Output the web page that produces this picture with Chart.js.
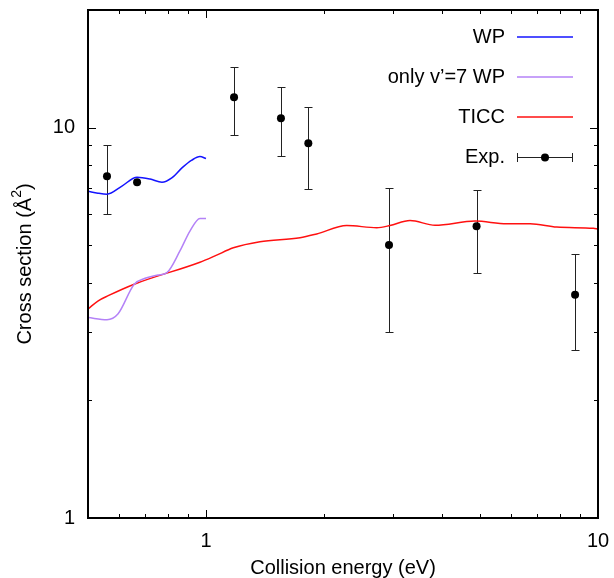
<!DOCTYPE html>
<html>
<head>
<meta charset="utf-8">
<script src="https://cdn.jsdelivr.net/npm/chart.js@4.4.0/dist/chart.umd.min.js"></script>
<style>
body { margin: 0; background: #fff; }
</style>
</head>
<body>
<canvas id="myChart" width="614" height="578"></canvas>
<script>
'use strict';

// WP (all v')
let wpE = [0.5, 0.53, 0.559, 0.609, 0.667, 0.72, 0.772, 0.818, 0.867, 0.92, 0.965, 1.0];
let wpS = [6.87, 6.79, 6.75, 7.07, 7.46, 7.38, 7.24, 7.43, 7.87, 8.25, 8.43, 8.33];

// only v'=7 WP
let v7E = [0.5, 0.559, 0.596, 0.656, 0.699, 0.754, 0.795, 0.858, 0.91, 0.965, 1.0];
let v7S = [3.26, 3.22, 3.33, 3.97, 4.11, 4.19, 4.25, 4.83, 5.43, 5.85, 5.85];

// TICC
let ticcE = [0.5, 0.531, 0.563, 0.656, 0.965, 1.054, 1.174, 1.373, 1.737, 1.916, 2.286, 2.726, 2.946, 3.315, 3.838, 4.856, 5.85, 6.71, 7.85, 9.73, 10];
let ticcS = [3.43, 3.60, 3.71, 3.97, 4.52, 4.69, 4.92, 5.10, 5.22, 5.34, 5.61, 5.54, 5.61, 5.78, 5.62, 5.76, 5.67, 5.67, 5.56, 5.52, 5.50];

// experiment with error bars
let expE = [0.559, 0.667, 1.179, 1.553, 1.824, 2.93, 4.90, 8.74];
let expS = [7.50, 7.24, 11.95, 10.56, 9.12, 5.00, 5.59, 3.73];
let expLow = [6.0, 7.24, 9.58, 8.47, 6.94, 3.0, 4.25, 2.69];
let expHigh = [9.0, 7.24, 14.31, 12.67, 11.31, 7.0, 6.91, 4.75];

let xTickLabels = [1, 10];
let yTickLabels = [1, 10];
let xMinor = [0.6, 0.7, 0.8, 0.9, 2, 3, 4, 5, 6, 7, 8, 9];
let yMinor = [2, 3, 4, 5, 6, 7, 8, 9];

function pts(xs, ys){
    let out = [];
    for (let i = 0; i < xs.length; i++){
        out.push({x: xs[i], y: ys[i]});
    }
    return out;
}

function onlyDecades(list){
    return function(value){
        for (let i = 0; i < list.length; i++){
            if (Math.abs(value - list[i]) < 1e-9) return String(list[i]);
        }
        return '';
    };
}

let fontFamily = '"Liberation Sans", Arial, sans-serif';
Chart.defaults.font.family = fontFamily;
Chart.defaults.font.size = 20;
Chart.defaults.color = '#000';

let frame = {
    id: 'frame',
    beforeDatasetsDraw(chart){
        let ctx = chart.ctx;
        let a = chart.chartArea;
        let xs = chart.scales.x;
        let ys = chart.scales.y;
        ctx.save();
        ctx.strokeStyle = '#000';
        ctx.lineWidth = 1;
        ctx.beginPath();
        // ticks on all four sides, pointing in
        xTickLabels.concat(xMinor).forEach(v => {
            let len = xTickLabels.includes(v) ? 8 : 4;
            let px = Math.round(xs.getPixelForValue(v)) + 0.5;
            ctx.moveTo(px, a.bottom); ctx.lineTo(px, a.bottom - len);
            ctx.moveTo(px, a.top); ctx.lineTo(px, a.top + len);
        });
        yTickLabels.concat(yMinor).forEach(v => {
            let len = yTickLabels.includes(v) ? 8 : 4;
            let py = Math.round(ys.getPixelForValue(v)) + 0.5;
            ctx.moveTo(a.left, py); ctx.lineTo(a.left + len, py);
            ctx.moveTo(a.right, py); ctx.lineTo(a.right - len, py);
        });
        ctx.stroke();

        // error bars
        ctx.strokeStyle = '#222';
        ctx.beginPath();
        for (let i = 0; i < expE.length; i++){
            if (expHigh[i] === expLow[i]) continue;
            let px = Math.round(xs.getPixelForValue(expE[i])) + 0.5;
            let top = Math.round(ys.getPixelForValue(expHigh[i])) + 0.5;
            let bot = Math.round(ys.getPixelForValue(expLow[i])) + 0.5;
            ctx.moveTo(px, top); ctx.lineTo(px, bot);
            ctx.moveTo(px - 4, top); ctx.lineTo(px + 4, top);
            ctx.moveTo(px - 4, bot); ctx.lineTo(px + 4, bot);
        }
        ctx.stroke();
        ctx.restore();
    },
    afterDatasetsDraw(chart){
        let ctx = chart.ctx;
        let a = chart.chartArea;
        ctx.save();
        ctx.strokeStyle = '#000';
        ctx.lineWidth = 2;
        ctx.strokeRect(a.left, a.top, a.right - a.left, a.bottom - a.top);

        // y title with a real superscript
        ctx.fillStyle = '#000';
        ctx.save();
        ctx.translate(25, (a.top + a.bottom) / 2);
        ctx.rotate(-Math.PI / 2);
        ctx.textBaseline = 'middle';
        ctx.textAlign = 'left';
        let big = '20px ' + fontFamily;
        let small = '14px ' + fontFamily;
        ctx.font = big;
        let p1 = 'Cross section (\u00c5';
        let w1 = ctx.measureText(p1).width;
        let w3 = ctx.measureText(')').width;
        ctx.font = small;
        let w2 = ctx.measureText('2').width;
        let x0 = -(w1 + w2 + w3) / 2;
        ctx.font = big;
        ctx.fillText(p1, x0, 0);
        ctx.font = small;
        ctx.fillText('2', x0 + w1, -8);
        ctx.font = big;
        ctx.fillText(')', x0 + w1 + w2, 0);
        ctx.restore();

        // legend, text right aligned with sample on the right
        ctx.font = '20px ' + fontFamily;
        ctx.textAlign = 'right';
        ctx.textBaseline = 'middle';
        ctx.fillStyle = '#000';
        chart.data.datasets.forEach((ds, i) => {
            let y = 37 + i * 40;
            ctx.fillText(ds.label, 505, y);
            if (ds.label === 'Exp.'){
                ctx.strokeStyle = '#222';
                ctx.lineWidth = 1;
                ctx.beginPath();
                ctx.moveTo(517, y + 0.5); ctx.lineTo(573, y + 0.5);
                ctx.moveTo(517.5, y - 4); ctx.lineTo(517.5, y + 5);
                ctx.moveTo(572.5, y - 4); ctx.lineTo(572.5, y + 5);
                ctx.stroke();
                ctx.beginPath();
                ctx.arc(545, y + 0.5, 4, 0, Math.PI * 2);
                ctx.fill();
            } else {
                ctx.strokeStyle = ds.borderColor;
                ctx.lineWidth = 1.5;
                ctx.beginPath();
                ctx.moveTo(517, y); ctx.lineTo(573, y);
                ctx.stroke();
            }
        });
        ctx.restore();
    }
};

let lineStyle = {
    showLine: true,
    pointRadius: 0,
    borderWidth: 1.5,
    cubicInterpolationMode: 'monotone',
    fill: false
};

let chardata = {
    type: 'scatter',
    data: {
        datasets: [
            Object.assign({label: 'WP', data: pts(wpE, wpS), borderColor: '#1414ff'}, lineStyle),
            Object.assign({label: 'only v\u2019=7 WP', data: pts(v7E, v7S), borderColor: '#b482f7'}, lineStyle),
            Object.assign({label: 'TICC', data: pts(ticcE, ticcS), borderColor: '#ff1010'}, lineStyle),
            {
                label: 'Exp.',
                data: pts(expE, expS),
                showLine: false,
                pointRadius: 4,
                pointHoverRadius: 4,
                backgroundColor: '#000',
                borderColor: '#000',
                borderWidth: 0
            }
        ]
    },
    options: {
        responsive: false,
        animation: false,
        layout: { padding: { left: 0, right: 16, top: 10, bottom: 0 } },
        plugins: {
            legend: { display: false },
            tooltip: { enabled: false }
        },
        scales: {
            x: {
                type: 'logarithmic',
                min: 0.5,
                max: 10,
                grid: { display: false, drawTicks: false },
                border: { display: false },
                ticks: { autoSkip: false, maxRotation: 0, padding: 11, callback: onlyDecades(xTickLabels) },
                title: { display: true, text: 'Collision energy (eV)', padding: { top: 0, bottom: -2 } },
                afterFit: s => { s.height = 60; s.paddingLeft = 0; s.paddingRight = 0; }
            },
            y: {
                type: 'logarithmic',
                min: 1,
                max: 20,
                grid: { display: false, drawTicks: false },
                border: { display: false },
                ticks: { autoSkip: false, padding: 13, callback: onlyDecades(yTickLabels) },
                title: { display: false },
                afterFit: s => { s.width = 88; s.paddingTop = 0; s.paddingBottom = 0; }
            }
        }
    },
    plugins: [frame]
};

let ctx = document.getElementById('myChart').getContext('2d');
let myChart = new Chart(ctx, chardata);
</script>
</body>
</html>
